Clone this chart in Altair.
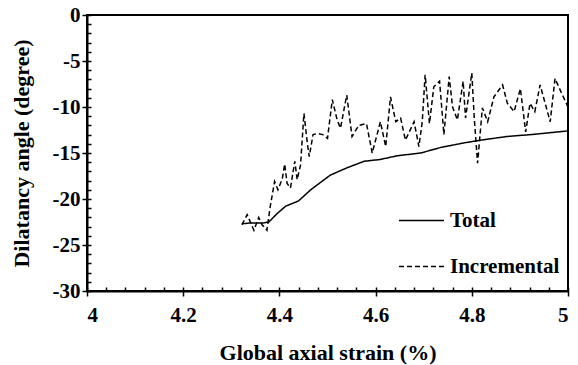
import altair as alt
import pandas as pd

# Data
total_x = [4.322, 4.34, 4.367, 4.378, 4.395, 4.4125, 4.44, 4.465, 4.506, 4.541,
           4.576, 4.61, 4.645, 4.694, 4.735, 4.784, 4.819, 4.874, 4.923, 5.0]
total_y = [-22.7, -22.6, -22.6, -22.5, -21.6, -20.8, -20.2, -19.0, -17.4, -16.6,
           -15.9, -15.7, -15.3, -15.0, -14.4, -13.9, -13.6, -13.2, -13.0, -12.6]

inc_x = [4.322, 4.333, 4.347, 4.357, 4.364, 4.374, 4.381, 4.39, 4.397, 4.406,
         4.411, 4.416, 4.423, 4.432, 4.437, 4.444, 4.451, 4.458, 4.462, 4.47,
         4.481, 4.49, 4.5, 4.51, 4.52, 4.527, 4.54, 4.551, 4.565, 4.581,
         4.593, 4.61, 4.621, 4.631, 4.642, 4.652, 4.662, 4.68, 4.69, 4.697,
         4.703, 4.712, 4.721, 4.733, 4.742, 4.753, 4.76, 4.77, 4.782, 4.787,
         4.8, 4.805, 4.812, 4.822, 4.833, 4.846, 4.864, 4.874, 4.888, 4.901,
         4.912, 4.921, 4.931, 4.942, 4.963, 4.973, 4.985, 5.0]
inc_y = [-22.8, -21.7, -23.4, -22.0, -22.8, -23.4, -20.8, -18.1, -19.0, -17.8,
         -16.2, -18.3, -18.8, -15.9, -17.9, -16.3, -10.7, -13.9, -15.4, -13.0,
         -12.9, -13.0, -13.4, -9.2, -11.4, -12.3, -8.7, -13.2, -12.0, -11.8,
         -15.0, -11.6, -14.3, -8.9, -11.6, -11.2, -13.6, -11.6, -14.3, -11.6,
         -6.5, -11.8, -7.8, -7.2, -13.0, -6.7, -10.0, -11.4, -7.2, -11.2,
         -6.3, -11.1, -16.1, -10.1, -11.6, -8.9, -7.6, -9.6, -10.5, -8.0,
         -12.7, -9.6, -10.5, -7.6, -11.6, -6.9, -8.3, -10.0]

series_names = ["Total", "Incremental"]
x_major = [4.0, 4.2, 4.4, 4.6, 4.8, 5.0]
y_major = [0, -5, -10, -15, -20, -25, -30]
x_minor = [round(4.0 + 0.04 * i, 2) for i in range(26)]
y_minor = [-i for i in range(31)]

df = pd.concat([
    pd.DataFrame({"x": total_x, "y": total_y, "series": "Total", "order": range(len(total_x))}),
    pd.DataFrame({"x": inc_x, "y": inc_y, "series": "Incremental", "order": range(len(inc_x))}),
])

FONT = "Liberation Serif"
xscale = alt.Scale(domain=[4, 5], nice=False, zero=False)
yscale = alt.Scale(domain=[-30, 0], nice=False, zero=False)

lines = alt.Chart(df).mark_line(color="black", strokeWidth=1.5).encode(
    x=alt.X("x:Q", scale=xscale,
            axis=alt.Axis(values=x_major, title="Global axial strain (%)", grid=False,
                          tickSize=5, labelPadding=8, titlePadding=17,
                          labelExpr="datum.value == 4 || datum.value == 5 ? format(datum.value, 'd') : format(datum.value, '.1f')")),
    y=alt.Y("y:Q", scale=yscale,
            axis=alt.Axis(values=y_major, title="Dilatancy angle (degree)", grid=False,
                          tickSize=5, labelPadding=2, titlePadding=19,
                          labelExpr="datum.value == 0 ? '0' : '-' + format(abs(datum.value), 'd')")),
    strokeDash=alt.StrokeDash("series:N",
                              scale=alt.Scale(domain=series_names, range=[[1, 0], [5, 3]]),
                              legend=alt.Legend(title=None, orient="none", legendX=311, legendY=182,
                                                symbolType="stroke", symbolSize=2025,
                                                symbolStrokeColor="black", symbolStrokeWidth=1.5,
                                                labelFont=FONT, labelFontSize=21, labelFontWeight="bold",
                                                labelColor="black", labelOffset=5, rowPadding=12,
                                                padding=0)),
    detail="series:N",
    order="order:Q",
)

minor = alt.Chart(df).mark_point(opacity=0).encode(
    x=alt.X("x:Q", scale=xscale,
            axis=alt.Axis(values=x_minor, labels=False, domain=False, grid=False,
                          tickSize=4, offset=-4, orient="bottom", title=None)),
    y=alt.Y("y:Q", scale=yscale,
            axis=alt.Axis(values=y_minor, labels=False, domain=False, grid=False,
                          tickSize=4, offset=-4, orient="left", title=None)),
)

chart = alt.layer(lines, minor).resolve_axis(x="independent", y="independent").properties(
    width=481, height=276,
    autosize=alt.AutoSizeParams(type="none"),
    padding={"left": 87, "top": 15, "right": 10, "bottom": 74},
    background="white",
).configure_view(stroke="black", strokeWidth=2).configure_axis(
    domainColor="black", domainWidth=2, tickColor="black", tickWidth=1.5,
    labelFont=FONT, labelFontSize=21, labelFontWeight="bold", labelColor="black",
    titleFont=FONT, titleFontSize=22, titleFontWeight="bold", titleColor="black",
)

chart.save("out.html", embed_options={"renderer": "svg", "actions": False})
